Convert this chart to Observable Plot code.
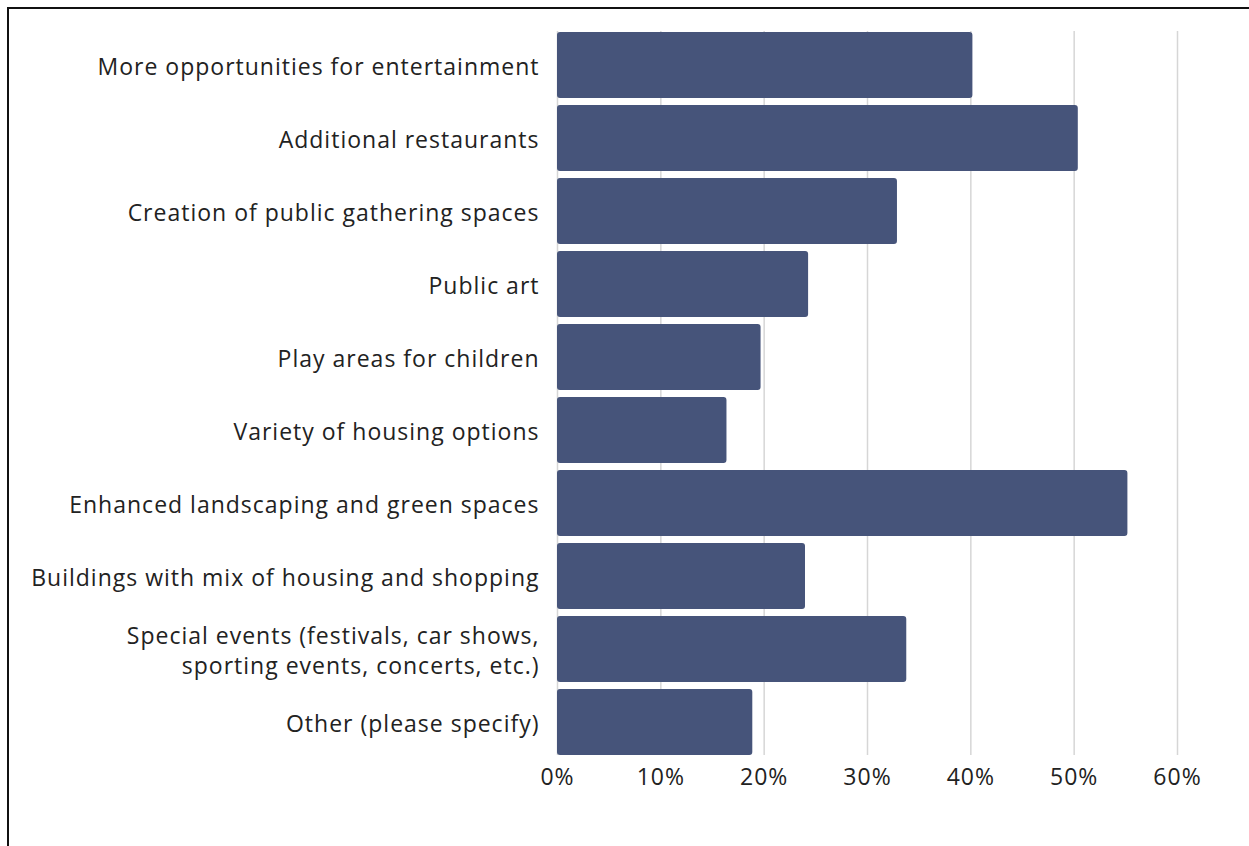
<!DOCTYPE html>
<html>
<head>
<meta charset="utf-8">
<script src="https://cdn.jsdelivr.net/npm/d3@7"></script>
<script src="https://cdn.jsdelivr.net/npm/@observablehq/plot@0.6"></script>
<style>
  html, body { margin: 0; padding: 0; background: #fff; }
  #wrap { position: relative; width: 1249px; height: 846px; overflow: hidden; }
  #frame { position: absolute; left: 7px; top: 7px; width: 1300px; height: 900px;
           border-left: 2px solid #111; border-top: 2px solid #111; box-sizing: border-box; }
  #chart { position: absolute; left: 0; top: 0; }
</style>
</head>
<body>
<div id="wrap"><div id="frame"></div><div id="chart"></div></div>
<script>
const categories = [
  "More opportunities for entertainment",
  "Additional restaurants",
  "Creation of public gathering spaces",
  "Public art",
  "Play areas for children",
  "Variety of housing options",
  "Enhanced landscaping and green spaces",
  "Buildings with mix of housing and shopping",
  "Special events (festivals, car shows,\nsporting events, concerts, etc.)",
  "Other (please specify)"
];
const values = [0.402, 0.504, 0.329, 0.243, 0.197, 0.164, 0.552, 0.240, 0.338, 0.189];
const xTicks = [0, 0.1, 0.2, 0.3, 0.4, 0.5, 0.6];

const data = categories.map((c, i) => ({category: c, value: values[i]}));

const chart = Plot.plot({
  width: 1249,
  height: 846,
  marginLeft: 557,
  marginRight: 72,
  marginTop: 31,
  marginBottom: 91,
  style: {fontFamily: "Open Sans", fontSize: "23px", letterSpacing: "1px", color: "#222", background: "transparent"},
  x: {domain: [0, 0.6], ticks: xTicks, tickFormat: d3.format(".0%")},
  y: {domain: categories, paddingInner: 0.1, paddingOuter: 0},
  marks: [
    Plot.gridX(xTicks, {stroke: "#d6d6d6", strokeOpacity: 1, strokeWidth: 1.5}),
    Plot.barX(data, {x: "value", y: "category", fill: "#46547a", rx: 3}),
    Plot.axisX({ticks: xTicks, tickFormat: d3.format(".0%"), tickSize: 0, tickPadding: 13, fill: "#222", label: null}),
    Plot.axisY({tickSize: 0, tickPadding: 18, fill: "#222", label: null, lineHeight: 1.3})
  ]
});
document.getElementById("chart").appendChild(chart);
</script>
</body>
</html>
